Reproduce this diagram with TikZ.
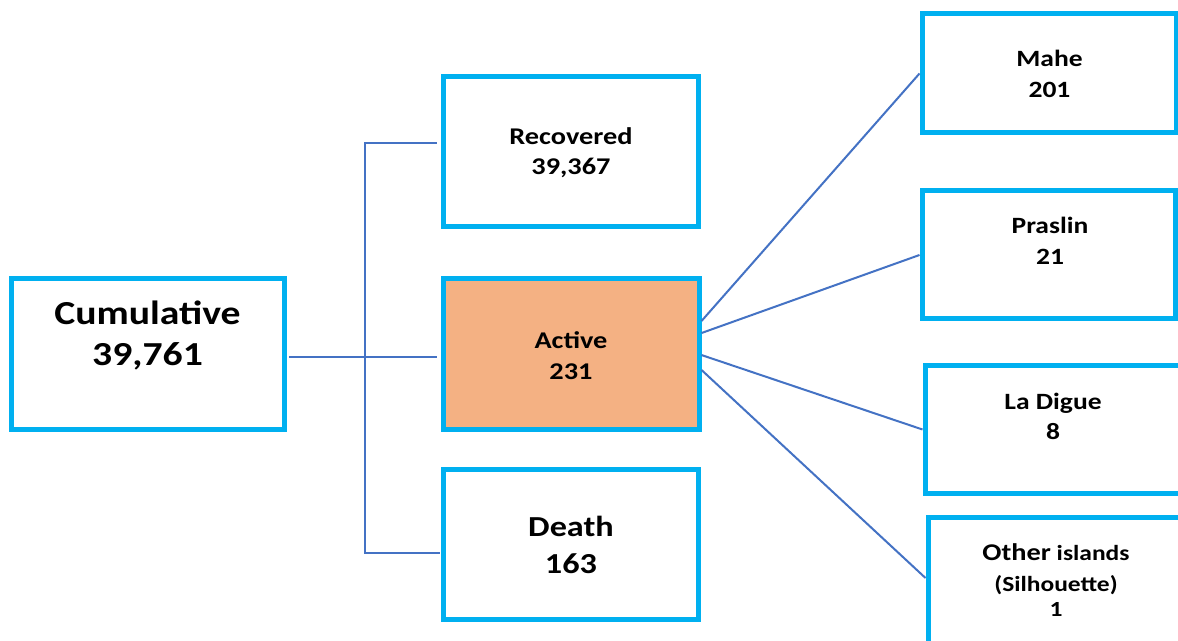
\documentclass[tikz,border=0pt]{standalone}
\usepackage{fontspec}
\newfontfamily\boxfont{Carlito}[FakeStretch=1.18]
\definecolor{boxblue}{HTML}{00B0F0}
\definecolor{linkblue}{HTML}{4472C4}
\definecolor{activefill}{HTML}{F4B183}
\tikzset{
  box/.style 2 args={draw=boxblue, line width=3.75pt, fill=white, inner sep=0pt,
    minimum width=#1*0.75pt, minimum height=#2*0.75pt},
  txt/.style={align=center, inner sep=0pt, font=\boxfont\bfseries},
  conn/.style={draw=linkblue, line width=1.5pt},
}
\begin{document}
\begin{tikzpicture}[x=0.75pt, y=-0.75pt]
\useasboundingbox (0,0) rectangle (1178,641);
\clip (0,0) rectangle (1178,641);
\fill[white] (0,0) rectangle (1178,641);
% boxes
\node[box={273}{151}] (cum) at (147.5,354.5) {};
\node[box={255}{150}] (rec) at (570.5,152) {};
\node[box={256}{151}, fill=activefill] (act) at (571,354.5) {};
\node[box={255}{150}] (dea) at (570.5,544) {};
\node[box={254}{119}] (mahe) at (1049,73.5) {};
\node[box={253.5}{128}] (pras) at (1048.75,255) {};
\node[box={260}{127}] (digue) at (1055,429.5) {};
\node[box={260}{150}] (other) at (1058,592) {};
% texts
\node[txt, font=\boxfont\bfseries\fontsize{25.2}{30.75}\selectfont] (cumt) at (147.5,335) {Cumulative\\39,761};
\node[txt, font=\boxfont\bfseries\fontsize{18}{22.5}\selectfont] (rect) at (571,153) {Recovered\\39,367};
\node[txt, font=\boxfont\bfseries\fontsize{18}{23.25}\selectfont] (actt) at (571,356) {Active\\231};
\node[txt, font=\boxfont\bfseries\fontsize{21.75}{27.75}\selectfont] (deat) at (571,545) {Death\\163};
\node[txt, font=\boxfont\bfseries\fontsize{17.5}{23.25}\selectfont] (mahet) at (1049.5,74) {Mahe\\201};
\node[txt, font=\boxfont\bfseries\fontsize{17.5}{23.5}\selectfont] (prast) at (1050,241) {Praslin\\21};
\node[txt, font=\boxfont\bfseries\fontsize{17.5}{22.5}\selectfont] (diguet) at (1053,416) {La Digue\\8};
\node[txt, font=\boxfont\bfseries\fontsize{16.2}{18.75}\selectfont] (othert) at (1056,580)
  {{\fontsize{18}{18.75}\selectfont Other} islands\\[4.5pt](Silhouette)\\1};
% connectors
\coordinate (hub) at (365,357);
\coordinate (ctop) at (365,143);
\coordinate (cbot) at (365,553);
\draw[conn, shorten <=2pt] (cum.east |- hub) -- (hub) -- ([xshift=-3pt]act.west |- hub);
\draw[conn] ([xshift=-3pt]rec.west |- ctop) -- (ctop) -- (cbot) -- ([xshift=-0.5pt]dea.west |- cbot);
\draw[conn] ([yshift=25.1pt]act.east) -- (mahe.west);
\draw[conn] ([yshift=16.1pt]act.east) -- (pras.west);
\draw[conn] ([yshift=-0.4pt]act.east) -- (digue.west);
\draw[conn] ([yshift=-11.6pt]act.east) -- ([yshift=10.5pt]other.west);
\end{tikzpicture}
\end{document}
